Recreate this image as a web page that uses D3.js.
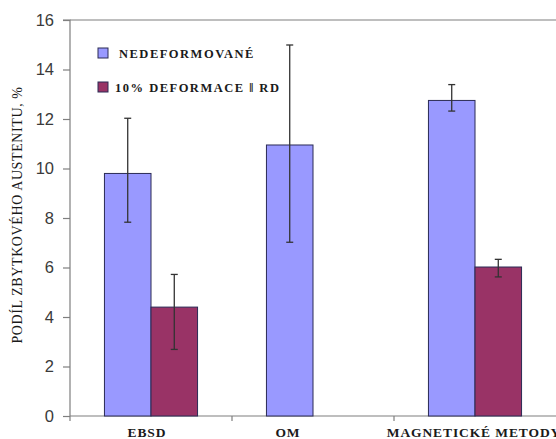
<!DOCTYPE html>
<html><head><meta charset="utf-8">
<script src="https://cdn.jsdelivr.net/npm/d3@7"></script>
<style>body{margin:0;background:#fff}svg{display:block}
.serif{font-family:'Liberation Serif','Times New Roman','DejaVu Serif',serif}
.sans{font-family:'Liberation Sans',Arial,sans-serif}</style>
</head><body><svg id="c" width="556" height="439"></svg>
<script>
const categories = ["EBSD", "OM", "MAGNETICKÉ METODY"];
const seriesNames = ["NEDEFORMOVANÉ", "10% DEFORMACE \u2016 RD"];
const undeformed = [9.8, 10.95, 12.75];
const undeformedLow = [7.83, 7.02, 12.32];
const undeformedHigh = [12.03, 14.99, 13.39];
const deformed = [4.4, null, 6.02];
const deformedLow = [2.69, null, 5.62];
const deformedHigh = [5.72, null, 6.33];
const yTicks = [0, 2, 4, 6, 8, 10, 12, 14, 16];

(function () {
const colors = ["#9999FF", "#993366"];
const svg = d3.select("#c");
const pl = 70, pr = 556, pt = 20, pb = 416;

const x = d3.scaleBand().domain(categories).range([pl, pr]).paddingInner(0).paddingOuter(0);
const xs = d3.scaleBand().domain([0, 1]).range([0, x.bandwidth()]).paddingInner(0).paddingOuter(0.74);
const y = d3.scaleLinear().domain([0, 16]).range([pb, pt]);

svg.append("line").attr("x1", pl).attr("x2", pr).attr("y1", y(16)).attr("y2", y(16))
  .attr("stroke", "#7f7f7f").attr("stroke-width", 1.2);

const ya = svg.append("g").attr("transform", `translate(${pl},0)`)
  .call(d3.axisLeft(y).tickValues(yTicks).tickSize(7).tickPadding(9).tickFormat(d3.format("d")));
ya.select(".domain").attr("stroke", "#7f7f7f").attr("stroke-width", 1.2).attr("d", `M-7,${pt}H0V${pb + 5}`);
ya.selectAll(".tick line").attr("stroke", "#7f7f7f").attr("stroke-width", 1.2);
ya.selectAll(".tick text").attr("class", "sans").attr("font-size", 16.5).attr("fill", "#3a3a3a");

const boundaries = categories.slice(1).map(c => x(c));
svg.append("line").attr("x1", pl).attr("x2", pr).attr("y1", pb).attr("y2", pb)
  .attr("stroke", "#7f7f7f").attr("stroke-width", 1.2);
svg.selectAll(".xt").data(boundaries).join("line")
  .attr("x1", d => d).attr("x2", d => d).attr("y1", pb).attr("y2", pb + 5)
  .attr("stroke", "#7f7f7f").attr("stroke-width", 1.2);
const labelShift = {"OM": -25, "EBSD": -4, "MAGNETICKÉ METODY": -1};
svg.selectAll(".xl").data(categories).join("text")
  .attr("class", "serif")
  .attr("x", d => x(d) + x.bandwidth() / 2 + labelShift[d]).attr("y", 437)
  .attr("text-anchor", "middle")
  .attr("font-weight", "bold").attr("font-size", 13.5).attr("letter-spacing", 0.9).attr("fill", "#1a1a1a")
  .text(d => d);

const series = [
  {vals: undeformed, lo: undeformedLow, hi: undeformedHigh},
  {vals: deformed, lo: deformedLow, hi: deformedHigh}
];
series.forEach((s, si) => {
  const g = svg.append("g");
  categories.forEach((c, ci) => {
    const v = s.vals[ci];
    if (v == null) return;
    const bx = x(c) + xs(si);
    g.append("rect").attr("x", bx).attr("y", y(v)).attr("width", xs.bandwidth()).attr("height", y(0) - y(v))
      .attr("fill", colors[si]).attr("stroke", "#2b2b55").attr("stroke-width", 1);
    const cx = bx + xs.bandwidth() / 2;
    g.append("line").attr("x1", cx).attr("x2", cx).attr("y1", y(s.hi[ci])).attr("y2", y(s.lo[ci]))
      .attr("stroke", "#333").attr("stroke-width", 1.3);
    [s.hi[ci], s.lo[ci]].forEach(e => {
      g.append("line").attr("x1", cx - 3.5).attr("x2", cx + 3.5).attr("y1", y(e)).attr("y2", y(e))
        .attr("stroke", "#333").attr("stroke-width", 1.3);
    });
  });
});

const lg = svg.append("g");
seriesNames.forEach((n, i) => {
  const ly = 53 + i * 34;
  lg.append("rect").attr("x", 98).attr("y", ly - 5).attr("width", 10).attr("height", 10)
    .attr("fill", colors[i]).attr("stroke", "#2b2b55").attr("stroke-width", 1);
  lg.append("text").attr("class", "serif").attr("x", i === 0 ? 119 : 115).attr("y", ly + 5)
    .attr("font-weight", "bold")
    .attr("font-size", 12.5).attr("letter-spacing", 1.5).attr("fill", "#1a1a1a").text(n);
});

svg.append("text").attr("class", "serif").attr("transform", `translate(22,215) rotate(-90)`)
  .attr("text-anchor", "middle")
  .attr("font-size", 14).attr("letter-spacing", 0.6).attr("fill", "#1a1a1a")
  .text("PODÍL ZBYTKOVÉHO AUSTENITU, %");
})();
</script></body></html>
